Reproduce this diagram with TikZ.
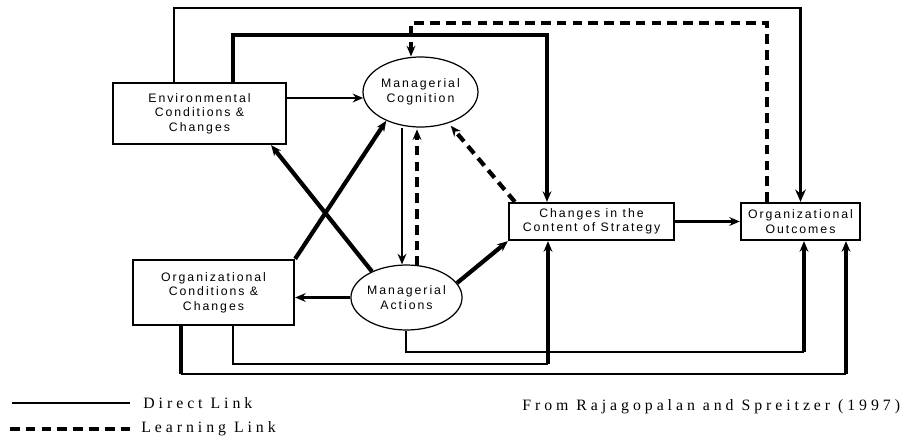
\documentclass[tikz,border=0pt]{standalone}
\usepackage{fontspec}
\usetikzlibrary{shapes.geometric,arrows.meta}
\newfontfamily\boxfont[LetterSpace=16]{Liberation Sans}
\newfontfamily\notefont[LetterSpace=25]{Liberation Serif}

\begin{document}
\begin{tikzpicture}[x=0.02cm, y=-0.02cm,
  box/.style={draw, line width=1.3pt, align=center, inner sep=0pt,
    font=\boxfont\fontsize{7}{8.3}\selectfont},
  oval/.style={draw, ellipse, line width=0.7pt, align=center, inner sep=0pt,
    font=\boxfont\fontsize{7}{8.3}\selectfont},
  direct/.style={line width=1.4pt},
  strong/.style={line width=2.4pt},
  learn/.style={line width=2.4pt, dash pattern=on 5.5pt off 3.5pt},
  tip/.style={-{Stealth[length=6pt,width=5pt]}},
  bigtip/.style={-{Stealth[length=7pt,width=6pt]}},
  note/.style={anchor=west, inner sep=0pt, font=\notefont\fontsize{9}{10}\selectfont}]

  \useasboundingbox (0,0) rectangle (914,444);

  % Boxes and ovals (px coordinates, y down)
  \node[box, minimum width=3.46cm, minimum height=1.22cm] (env) at (199.5,113.5)
    {Environmental\\Conditions \&\\Changes};
  \node[box, minimum width=3.22cm, minimum height=1.3cm] (org) at (213.5,292.5)
    {Organizational\\Conditions \&\\Changes};
  \node[oval, minimum width=2.3cm, minimum height=1.4cm] (cog) at (420.5,92)
    {Managerial\\Cognition};
  \node[oval, minimum width=2.06cm, minimum height=1.3cm] (act) at (406.5,297.5)
    {Managerial\\Actions};
  \node[box, minimum width=3.3cm, minimum height=0.74cm] (cont) at (591.5,221.5)
    {Changes in the\\Content of Strategy};
  \node[box, minimum width=2.38cm, minimum height=0.74cm] (out) at (800.5,221.5)
    {Organizational\\Outcomes};

  % Bend points of the long links
  \coordinate (r1) at (174,8);
  \coordinate (r2) at (233,35);   \coordinate (r2e) at (547,35);
  \coordinate (r3) at (767,23);   \coordinate (r3e) at (411,23);
  \coordinate (b1) at (406,352);  \coordinate (b1e) at (804,352);
  \coordinate (b2) at (233,364);  \coordinate (b2e) at (548,364);
  \coordinate (b3) at (181,374);  \coordinate (b3e) at (846,374);
  \coordinate (v1) at (402,0);    \coordinate (v2) at (417,0);

  % Links over the top
  \draw[direct, bigtip] (r1 |- env.north) -- (r1) -| (out.north);
  \draw[strong, tip] (r2 |- env.north) -- (r2) -- (r2e) -- (r2e |- cont.north);
  \draw[learn, tip] (r3 |- out.north) -- (r3) -- (r3e) -- (r3e |- cog.north);

  % Links in the middle
  \draw[direct, tip] (env.east |- cog.186) -- (cog.186);
  \draw[direct, tip] (cog.south -| v1) -- (act.north -| v1);
  \draw[learn, tip] ([yshift=-1pt]act.north -| v2) -- ([yshift=-1pt]cog.south -| v2);
  \draw[learn, tip, shorten >=2pt] ([xshift=0.14cm]cont.north west) -- (cog.312);
  \draw[strong, tip] (act.16) -- (cont.south west);
  \draw[strong, tip] (act.143) -- ([xshift=-0.32cm]env.south east);
  \draw[strong, tip] (org.north east) -- (cog.220);
  \draw[direct, tip] (act.west) -- (act.west -| org.east);
  \draw[direct, tip] (cont.east) -- (out.west);

  % Links along the bottom
  \draw[direct] (b1 |- act.south) -- (b1) -- (b1e);
  \draw[strong, tip] (b1e) -- (b1e |- out.south);
  \draw[direct] (b2 |- org.south) -- (b2) -- (b2e);
  \draw[strong, tip] (b2e) -- (b2e |- cont.south);
  \draw[strong] (b3 |- org.south) -- (b3);
  \draw[direct] (b3) -- (b3e);
  \draw[strong, tip] (b3e) -- (b3e |- out.south);

  % Legend and source
  \coordinate (l1) at (12,403);
  \coordinate (l2) at (10,429);
  \node[note] (dl) at (143,403) {Direct Link};
  \node[note] (ll) at (141,429) {Learning Link};
  \draw[direct] (l1) -- (l1 -| 130,0);
  \draw[learn] (l2) -- (l2 -| 130,0);
  \node[note] (src) at (522,407) {From Rajagopalan and Spreitzer (1997)};

\end{tikzpicture}
\end{document}
